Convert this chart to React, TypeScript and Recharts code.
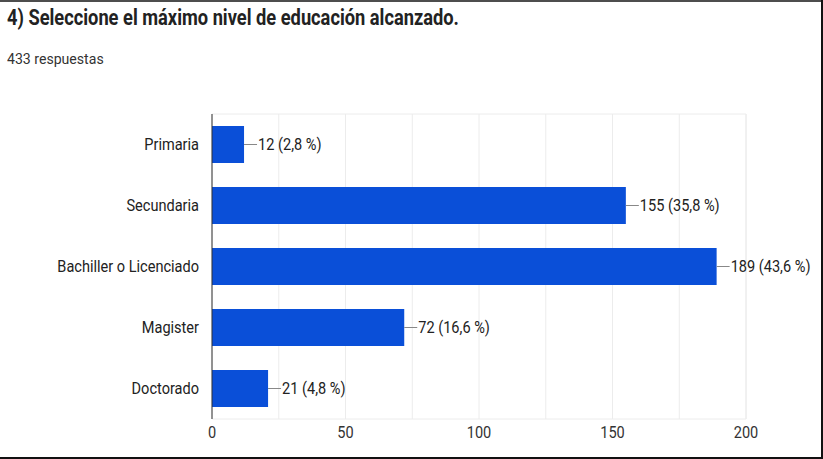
import React from "react";
import { BarChart, Bar, XAxis, YAxis, CartesianGrid, ReferenceArea, LabelList } from "recharts";

const categories = ["Primaria", "Secundaria", "Bachiller o Licenciado", "Magister", "Doctorado"];
const counts = [12, 155, 189, 72, 21];
const percents = ["2,8", "35,8", "43,6", "16,6", "4,8"];
const labeledTicks = [0, 50, 100, 150, 200];
const gridTicks = [0, 25, 50, 75, 100, 125, 150, 175, 200];

const data = categories.map((name, i) => ({ name, value: counts[i], pct: percents[i] }));

const FONT = "Roboto, 'Noto Sans', sans-serif";
const SX = 0.91;
const FS = 16;

const YTick = (props: any) => {
  const { x, y, payload } = props;
  return (
    <text transform={`translate(${x},${y}) scale(${SX},1)`} textAnchor="end" dy="0.35em" fontSize={FS} fill="#222" fontFamily={FONT}>
      {payload.value}
    </text>
  );
};

const XTick = (props: any) => {
  const { x, y, payload } = props;
  if (!labeledTicks.includes(payload.value)) return <g />;
  return (
    <text transform={`translate(${x},${y}) scale(${SX},1)`} textAnchor="middle" dy={19} fontSize={FS} fill="#333" fontFamily={FONT}>
      {payload.value}
    </text>
  );
};

const BarLabel = (props: any) => {
  const { x, y, width, height, index } = props;
  const ex = Number(x) + Number(width);
  const cy = Number(y) + Number(height) / 2;
  const d = data[index];
  return (
    <g>
      <line x1={ex} y1={cy} x2={ex + 13} y2={cy} stroke="#888" strokeWidth={1} />
      <text transform={`translate(${ex + 14},${cy}) scale(${SX},1)`} dy="0.35em" fontSize={FS} fill="#222" fontFamily={FONT}>
        {`${d.value} (${d.pct} %)`}
      </text>
    </g>
  );
};

export default function App() {
  return (
    <div style={{ position: "absolute", left: 0, top: 0, width: 823, height: 459, background: "#fff", overflow: "hidden", fontFamily: FONT }}>
      <div style={{ position: "absolute", left: 0, top: 0, width: 823, height: 2, background: "#4d4d4d" }} />
      <div style={{ position: "absolute", right: 0, top: 0, width: 2, height: 459, background: "#111" }} />
      <div style={{ position: "absolute", left: 0, bottom: 0, width: 823, height: 2, background: "#111" }} />
      <div style={{ position: "absolute", left: 7, top: 7, fontSize: 22, lineHeight: "22px", fontWeight: 700, color: "#222", whiteSpace: "nowrap", transform: `scale(0.83,1)`, transformOrigin: "left top" }}>
        4) Seleccione el máximo nivel de educación alcanzado.
      </div>
      <div style={{ position: "absolute", left: 7, top: 52, fontSize: 15, lineHeight: "15px", color: "#333", whiteSpace: "nowrap", transform: `scale(0.94,1)`, transformOrigin: "left top" }}>
        433 respuestas
      </div>
      <div style={{ position: "absolute", left: 0, top: 0 }}>
        <BarChart width={823} height={459} data={data} layout="vertical" margin={{ top: 114, right: 77, bottom: 10, left: 12 }}>
          <CartesianGrid horizontal={false} stroke="#ececec" />
          <ReferenceArea x1={0} x2={200} stroke="#ececec" fill="none" fillOpacity={0} />
          <XAxis type="number" domain={[0, 200]} ticks={gridTicks} interval={0} axisLine={false} tickLine={false} tickSize={0} tickMargin={0} height={30} tick={<XTick />} />
          <YAxis type="category" dataKey="name" width={200} axisLine={{ stroke: "#333" }} tickLine={false} tickSize={0} tickMargin={13} tick={<YTick />} />
          <Bar dataKey="value" fill="#0a4fd8" barSize={37} isAnimationActive={false}>
            <LabelList dataKey="value" content={<BarLabel />} />
          </Bar>
        </BarChart>
      </div>
    </div>
  );
}
